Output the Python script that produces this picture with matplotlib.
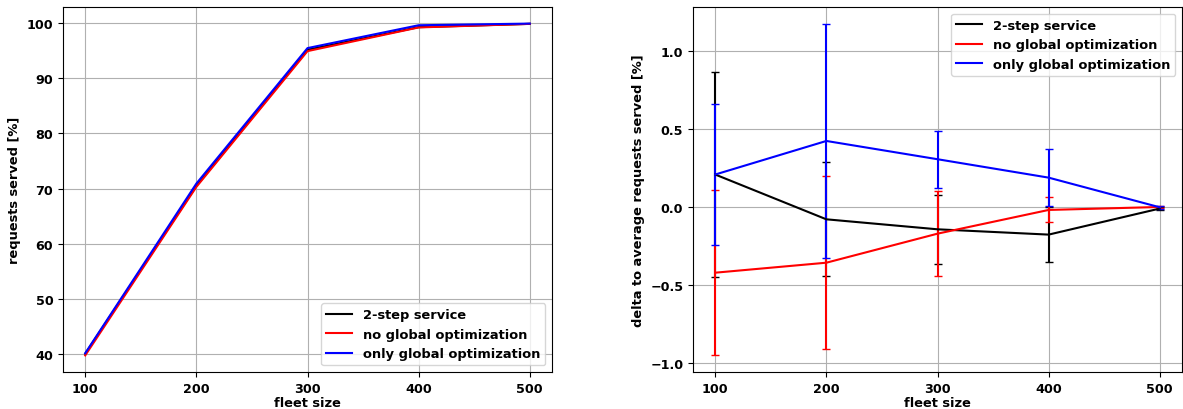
import matplotlib
matplotlib.use("Agg")
import matplotlib.pyplot as plt
from matplotlib.lines import Line2D

fleet_sizes = [100, 200, 300, 400, 500]
labels = ["2-step service", "no global optimization", "only global optimization"]
colors = ["black", "red", "blue"]

# left: requests served [%]
served_two_step = [40.0, 70.5, 95.2, 99.3, 99.9]
served_no_global = [39.7, 70.3, 94.95, 99.25, 99.9]
served_only_global = [40.1, 70.9, 95.5, 99.65, 99.95]

# right: delta to average requests served [%] with error bars
delta_two_step = [0.21, -0.077, -0.141, -0.175, -0.008]
err_two_step = [0.655, 0.366, 0.22, 0.178, 0.012]
delta_no_global = [-0.419, -0.355, -0.169, -0.017, 0.002]
err_no_global = [0.53, 0.555, 0.272, 0.08, 0.008]
delta_only_global = [0.21, 0.425, 0.308, 0.19, 0.0]
err_only_global = [0.452, 0.752, 0.184, 0.181, 0.01]

plt.rcParams['font.family'] = ['DejaVu Sans']
plt.rcParams['font.weight'] = 'bold'
plt.rcParams['axes.labelweight'] = 'bold'

FS = 9.4
fig = plt.figure(figsize=(11.83, 4.10), dpi=100)
W, H = 1183, 410
ax1 = fig.add_axes([63 / W, 37 / H, 489 / W, 365 / H])
ax2 = fig.add_axes([693 / W, 37 / H, 489 / W, 365 / H])

for vals, lab, c in zip([served_two_step, served_no_global, served_only_global], labels, colors):
    ax1.plot(fleet_sizes, vals, color=c, label=lab, lw=1.5)
ax1.set_xticks(fleet_sizes)
ax1.set_xlabel("fleet size", fontsize=FS, fontweight='bold', labelpad=1)
ax1.set_ylabel("requests served [%]", fontsize=FS, fontweight='bold')
ax1.grid(True)
ax1.legend(loc="lower right", prop={'weight': 'bold', 'size': FS})

for vals, errs, lab, c in zip([delta_two_step, delta_no_global, delta_only_global],
                              [err_two_step, err_no_global, err_only_global], labels, colors):
    ax2.errorbar(fleet_sizes, vals, yerr=errs, color=c, label=lab, lw=1.5, capsize=3, elinewidth=1.5)
ax2.set_xticks(fleet_sizes)
ax2.set_yticks([-1.0, -0.5, 0.0, 0.5, 1.0])
ax2.set_xlabel("fleet size", fontsize=FS, fontweight='bold', labelpad=1)
ax2.set_ylabel("delta to average requests served [%]", fontsize=FS, fontweight='bold')
ax2.grid(True)
proxy = [Line2D([], [], color=c, lw=1.5) for c in colors]
ax2.legend(proxy, labels, loc="upper right", prop={'weight': 'bold', 'size': FS})

for ax in (ax1, ax2):
    ax.tick_params(labelsize=9.2)
    for lbl in ax.get_xticklabels() + ax.get_yticklabels():
        lbl.set_fontweight('bold')

fig.savefig("out.png", dpi=100)
